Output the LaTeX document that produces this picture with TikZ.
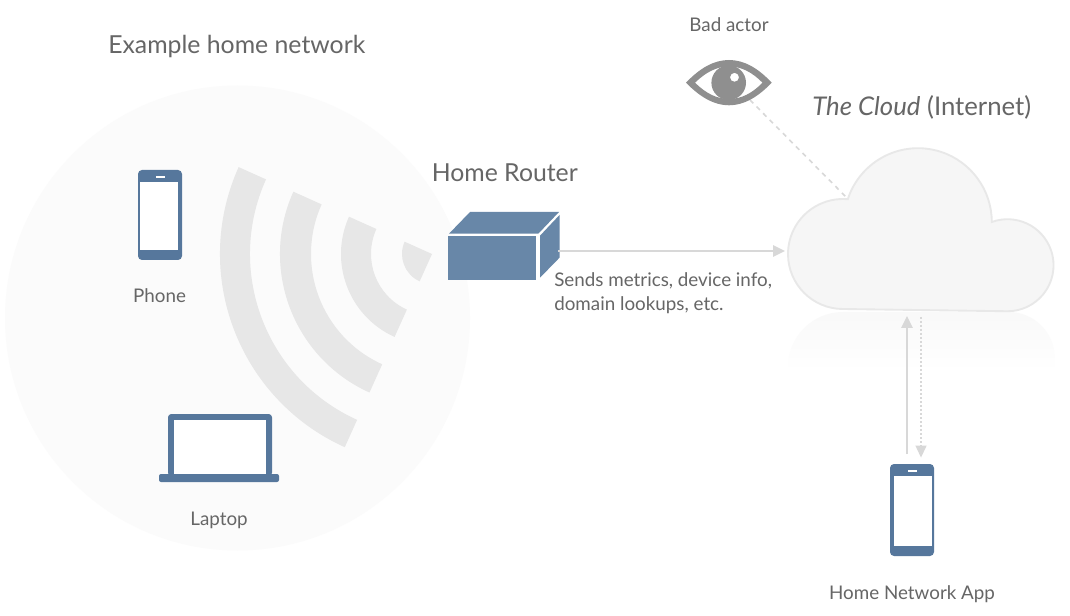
\documentclass[tikz,border=0pt]{standalone}
\usepackage{fontspec}
\setmainfont{Lato}
\usetikzlibrary{arrows.meta}
\definecolor{devblue}{HTML}{56779C}
\definecolor{routerblue}{HTML}{6887A8}
\definecolor{txt}{HTML}{666666}
\definecolor{wave}{HTML}{E7E7E7}
\definecolor{linkgray}{HTML}{D8D8D8}
\definecolor{eyegray}{HTML}{8F8F8F}
\definecolor{homefill}{HTML}{FBFBFB}
\definecolor{cloudfill}{HTML}{F6F6F6}
\definecolor{cloudedge}{HTML}{E8E8E8}
\tikzset{
  lab/.style={text=txt,inner sep=0pt,anchor=base},
  bigl/.style={lab,font=\fontsize{18.6}{20}\selectfont},
  cloudl/.style={lab,font=\fontsize{19.3}{20}\selectfont},
  smalll/.style={lab,font=\fontsize{14.1}{15}\selectfont},
  link/.style={draw=linkgray,line width=1.5pt,-{Triangle[length=9pt,width=8.5pt]}},
  wavef/.style={fill=wave,draw=none},
}
\newcommand\wifiband[2]{%
  \fill[wavef] ([shift={(432,254)}]114.3:#2) arc[start angle=114.3,end angle=204.2,radius=#2]
    -- ([shift={(432,254)}]204.2:#1) arc[start angle=204.2,end angle=114.3,radius=#1] -- cycle;}
\newcommand\phoneh{90}\newcommand\screenb{80}\newcommand\screenl{2}
\newcommand\phoneicon[2]{% left, top; 44 wide
  \begin{scope}[shift={(#1,#2)}]
  \fill[devblue,rounded corners=3pt] (0,0) rectangle (44,\phoneh);
  \fill[white] (\screenl,12) rectangle ++(38,\screenb-12);
  \fill[white] (17.5,6) rectangle (26.5,7.8);
  \end{scope}}
\begin{document}
\begin{tikzpicture}[x=0.75pt,y=-0.75pt]
\useasboundingbox (0,0) rectangle (1070,616);
\fill[white] (0,0) rectangle (1070,616);
% home circle
\fill[fill=homefill] (237.5,318) circle[radius=232.5];
% wifi
\fill[wavef] (432,254) -- ([shift={(432,254)}]114.3:30) arc[start angle=114.3,end angle=204.2,radius=30] -- cycle;
\wifiband{61}{91}
\wifiband{121}{152}
\wifiband{182}{212}
% phone
\phoneicon{138}{170}
% laptop
\fill[devblue,rounded corners=2.5pt] (168,476) -- (168,414) -- (272,414) -- (272,476) -- cycle;
\fill[white] (174,420) rectangle (266,474);
\fill[devblue,rounded corners=1.5pt] (159,474) rectangle (279,482);
% router
\fill[routerblue] (448,235.7) rectangle (536,279.7);
\fill[routerblue] (449,233.7) -- (470,212) -- (559,212) -- (538.3,233.7) -- cycle;
\fill[routerblue] (540,235.7) -- (559.5,215) -- (559.5,257.7) -- (540,277.7) -- cycle;
% cloud reflection
\begin{scope}
  \clip (780,312) rectangle (1060,366);
  \shade[top color=black!2.5,bottom color=white]
    (843,312) arc[start angle=270,end angle=180,radius=55] -- (788,372) -- (1055,372) -- (1054.7,358)
    arc[start angle=0,end angle=-90,radius=46] -- cycle;
\end{scope}
% cloud
\path[fill=cloudfill,draw=cloudedge,line width=1.4pt]
  (843,309) arc[start angle=90,end angle=275,radius=55]
  arc[start angle=198,end angle=360,radius=73.8]
  arc[start angle=250,end angle=450,radius=46] -- cycle;
% connector anchors
\coordinate (routerport) at (558,251);
\coordinate (cloudleft) at (785,251);
\coordinate (cloudnotch) at (848,199);
\coordinate (eyeedge) at (750,100);
\coordinate (cloudbelowa) at (907,316);
\coordinate (cloudbelowb) at (921,317);
\coordinate (appupa) at (907,454);
\coordinate (appupb) at (921,457.5);
\coordinate (appdot) at (921,446);
\draw[link] (routerport) -- (cloudleft);
\draw[draw=linkgray,line width=1.2pt,dash pattern=on 3.5pt off 3.5pt] (eyeedge) -- (cloudnotch);
\draw[link] (appupa) -- (cloudbelowa);
\draw[draw=linkgray,line width=1.6pt,dash pattern=on 1.6pt off 1.4pt] (cloudbelowb) -- (appdot);
\fill[linkgray] (appupb) -- ++(-5.7,-12) -- ++(11.4,0) -- cycle;
% eye
\fill[eyegray,even odd rule]
  (686,82.7) .. controls (700,68) and (714,60) .. (729,60) .. controls (744,60) and (758,68) .. (771.7,82.7)
  .. controls (758,97) and (744,105.3) .. (729,105.3) .. controls (714,105.3) and (700,97) .. (686,82.7) -- cycle
  (695,82.7) .. controls (706,72) and (717,66.5) .. (729,66.5) .. controls (741,66.5) and (752,72) .. (762.5,82.7)
  .. controls (752,93.5) and (741,99) .. (729,99) .. controls (717,99) and (706,93.5) .. (695,82.7) -- cycle;
\fill[eyegray,even odd rule] (728.7,82.7) circle[radius=17.3] (734.5,77.3) circle[radius=4.5];
% app phone
\renewcommand\phoneh{92}\renewcommand\screenb{82}\renewcommand\screenl{4}
\phoneicon{890}{464}
% labels
\node[bigl,anchor=base west] (homelabel) at (108,54) {Example home network};
\node[smalll] (badactor) at (729,31.5) {Bad actor};
\node[cloudl,anchor=base west] (cloudlabel) at (812,116) {\textit{The Cloud} (Internet)};
\node[bigl,anchor=base west] (routerlabel) at (431.5,181.5) {Home Router};
\node[smalll,anchor=base west] (sendsa) at (554,286.5) {Sends metrics, device info,};
\node[smalll,anchor=base west] (sendsb) at (554,310.5) {domain lookups, etc.};
\node[smalll] (phonelabel) at (159.5,303) {Phone};
\node[smalll] (laptoplabel) at (219,525) {Laptop};
\node[smalll] (applabel) at (912,599) {Home Network App};
\end{tikzpicture}
\end{document}
